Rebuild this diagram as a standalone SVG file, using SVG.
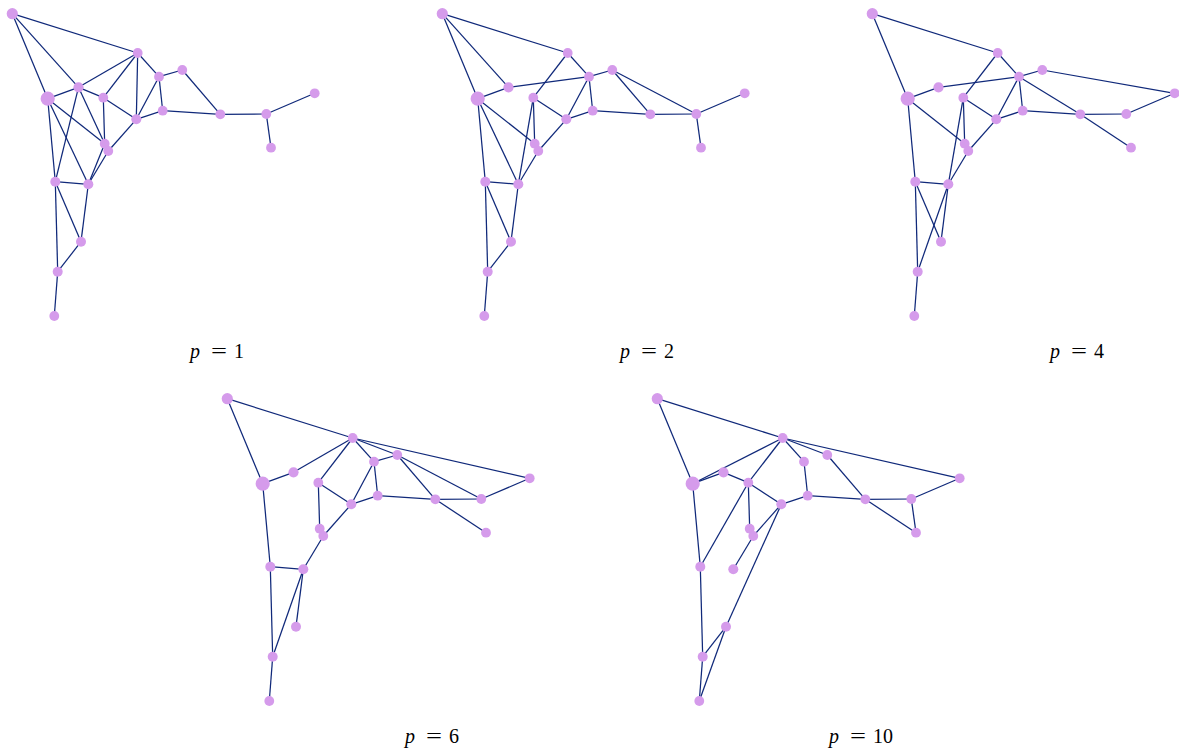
<svg xmlns="http://www.w3.org/2000/svg" width="1179" height="753" viewBox="0 0 1179 753">
<style>
.e line{stroke:#10297a;stroke-width:1.25;fill:none}
.n{fill:#d59beb}
.t{font-family:"Liberation Serif","Times New Roman",serif;font-size:20px;fill:#000}
.it{font-style:italic}
</style>
<rect x="0" y="0" width="1179" height="753" fill="#fff"/>

<!-- Panel p=1 -->
<g id="panel-p1" transform="translate(0,0)">
<g id="p1-connectors" class="e">
<line x1="12.3" y1="13.7" x2="137.7" y2="53"/>
<line x1="12.3" y1="13.7" x2="78.5" y2="87.3"/>
<line x1="12.3" y1="13.7" x2="47.7" y2="98.7"/>
<line x1="137.7" y1="53" x2="78.5" y2="87.3"/>
<line x1="137.7" y1="53" x2="103.3" y2="97.7"/>
<line x1="137.7" y1="53" x2="136.3" y2="119.3"/>
<line x1="137.7" y1="53" x2="159" y2="76.7"/>
<line x1="159" y1="76.7" x2="182.3" y2="70"/>
<line x1="159" y1="76.7" x2="136.3" y2="119.3"/>
<line x1="159" y1="76.7" x2="162.7" y2="110.7"/>
<line x1="182.3" y1="70" x2="220.3" y2="114.3"/>
<line x1="78.5" y1="87.3" x2="47.7" y2="98.7"/>
<line x1="78.5" y1="87.3" x2="103.3" y2="97.7"/>
<line x1="78.5" y1="87.3" x2="55.3" y2="181.7"/>
<line x1="78.5" y1="87.3" x2="104.7" y2="143.7"/>
<line x1="47.7" y1="98.7" x2="55.3" y2="181.7"/>
<line x1="47.7" y1="98.7" x2="88.3" y2="184.3"/>
<line x1="47.7" y1="98.7" x2="104.7" y2="143.7"/>
<line x1="103.3" y1="97.7" x2="104.7" y2="143.7"/>
<line x1="103.3" y1="97.7" x2="136.3" y2="119.3"/>
<line x1="136.3" y1="119.3" x2="162.7" y2="110.7"/>
<line x1="136.3" y1="119.3" x2="108.3" y2="151"/>
<line x1="162.7" y1="110.7" x2="220.3" y2="114.3"/>
<line x1="220.3" y1="114.3" x2="266.3" y2="114"/>
<line x1="266.3" y1="114" x2="314.7" y2="93.3"/>
<line x1="266.3" y1="114" x2="271" y2="147.7"/>
<line x1="104.7" y1="143.7" x2="88.3" y2="184.3"/>
<line x1="108.3" y1="151" x2="88.3" y2="184.3"/>
<line x1="104.7" y1="143.7" x2="108.3" y2="151"/>
<line x1="55.3" y1="181.7" x2="88.3" y2="184.3"/>
<line x1="55.3" y1="181.7" x2="81" y2="241.7"/>
<line x1="55.3" y1="181.7" x2="57.7" y2="271.7"/>
<line x1="88.3" y1="184.3" x2="81" y2="241.7"/>
<line x1="81" y1="241.7" x2="57.7" y2="271.7"/>
<line x1="57.7" y1="271.7" x2="54.3" y2="316"/>
</g>
<g id="p1-A"><circle class="n" cx="12.3" cy="13.7" r="5.6"/></g>
<g id="p1-B"><circle class="n" cx="137.7" cy="53" r="4.9"/></g>
<g id="p1-C"><circle class="n" cx="159" cy="76.7" r="4.9"/></g>
<g id="p1-D"><circle class="n" cx="182.3" cy="70" r="4.9"/></g>
<g id="p1-E"><circle class="n" cx="78.5" cy="87.3" r="5.1"/></g>
<g id="p1-F"><circle class="n" cx="47.7" cy="98.7" r="7.1"/></g>
<g id="p1-G"><circle class="n" cx="103.3" cy="97.7" r="4.9"/></g>
<g id="p1-H"><circle class="n" cx="162.7" cy="110.7" r="4.9"/></g>
<g id="p1-I"><circle class="n" cx="136.3" cy="119.3" r="5"/></g>
<g id="p1-J"><circle class="n" cx="220.3" cy="114.3" r="4.9"/></g>
<g id="p1-K"><circle class="n" cx="266.3" cy="114" r="4.9"/></g>
<g id="p1-L"><circle class="n" cx="314.7" cy="93.3" r="4.9"/></g>
<g id="p1-M"><circle class="n" cx="271" cy="147.7" r="4.9"/></g>
<g id="p1-N"><circle class="n" cx="104.7" cy="143.7" r="4.9"/></g>
<g id="p1-O"><circle class="n" cx="108.3" cy="151" r="4.9"/></g>
<g id="p1-P"><circle class="n" cx="55.3" cy="181.7" r="5"/></g>
<g id="p1-Q"><circle class="n" cx="88.3" cy="184.3" r="5"/></g>
<g id="p1-R"><circle class="n" cx="81" cy="241.7" r="5"/></g>
<g id="p1-S"><circle class="n" cx="57.7" cy="271.7" r="5"/></g>
<g id="p1-T"><circle class="n" cx="54.3" cy="316" r="4.9"/></g>
</g>

<!-- Panel p=2 -->
<g id="panel-p2" transform="translate(430,0)">
<g id="p2-connectors" class="e">
<line x1="12.3" y1="13.7" x2="137.7" y2="53"/>
<line x1="12.3" y1="13.7" x2="78.5" y2="87.3"/>
<line x1="12.3" y1="13.7" x2="47.7" y2="98.7"/>
<line x1="137.7" y1="53" x2="103.3" y2="97.7"/>
<line x1="137.7" y1="53" x2="159" y2="76.7"/>
<line x1="159" y1="76.7" x2="78.5" y2="87.3"/>
<line x1="159" y1="76.7" x2="136.3" y2="119.3"/>
<line x1="159" y1="76.7" x2="162.7" y2="110.7"/>
<line x1="159" y1="76.7" x2="182.3" y2="70"/>
<line x1="182.3" y1="70" x2="220.3" y2="114.3"/>
<line x1="182.3" y1="70" x2="266.3" y2="114"/>
<line x1="78.5" y1="87.3" x2="47.7" y2="98.7"/>
<line x1="47.7" y1="98.7" x2="55.3" y2="181.7"/>
<line x1="47.7" y1="98.7" x2="88.3" y2="184.3"/>
<line x1="47.7" y1="98.7" x2="104.7" y2="143.7"/>
<line x1="103.3" y1="97.7" x2="104.7" y2="143.7"/>
<line x1="103.3" y1="97.7" x2="88.3" y2="184.3"/>
<line x1="103.3" y1="97.7" x2="136.3" y2="119.3"/>
<line x1="136.3" y1="119.3" x2="108.3" y2="151"/>
<line x1="136.3" y1="119.3" x2="162.7" y2="110.7"/>
<line x1="162.7" y1="110.7" x2="220.3" y2="114.3"/>
<line x1="220.3" y1="114.3" x2="266.3" y2="114"/>
<line x1="266.3" y1="114" x2="314.7" y2="93.3"/>
<line x1="266.3" y1="114" x2="271" y2="147.7"/>
<line x1="108.3" y1="151" x2="88.3" y2="184.3"/>
<line x1="104.7" y1="143.7" x2="108.3" y2="151"/>
<line x1="55.3" y1="181.7" x2="88.3" y2="184.3"/>
<line x1="55.3" y1="181.7" x2="81" y2="241.7"/>
<line x1="55.3" y1="181.7" x2="57.7" y2="271.7"/>
<line x1="88.3" y1="184.3" x2="81" y2="241.7"/>
<line x1="81" y1="241.7" x2="57.7" y2="271.7"/>
<line x1="57.7" y1="271.7" x2="54.3" y2="316"/>
</g>
<g id="p2-A"><circle class="n" cx="12.3" cy="13.7" r="5.6"/></g>
<g id="p2-B"><circle class="n" cx="137.7" cy="53" r="4.9"/></g>
<g id="p2-C"><circle class="n" cx="159" cy="76.7" r="4.9"/></g>
<g id="p2-D"><circle class="n" cx="182.3" cy="70" r="4.9"/></g>
<g id="p2-E"><circle class="n" cx="78.5" cy="87.3" r="5.1"/></g>
<g id="p2-F"><circle class="n" cx="47.7" cy="98.7" r="7.1"/></g>
<g id="p2-G"><circle class="n" cx="103.3" cy="97.7" r="4.9"/></g>
<g id="p2-H"><circle class="n" cx="162.7" cy="110.7" r="4.9"/></g>
<g id="p2-I"><circle class="n" cx="136.3" cy="119.3" r="5"/></g>
<g id="p2-J"><circle class="n" cx="220.3" cy="114.3" r="4.9"/></g>
<g id="p2-K"><circle class="n" cx="266.3" cy="114" r="4.9"/></g>
<g id="p2-L"><circle class="n" cx="314.7" cy="93.3" r="4.9"/></g>
<g id="p2-M"><circle class="n" cx="271" cy="147.7" r="4.9"/></g>
<g id="p2-N"><circle class="n" cx="104.7" cy="143.7" r="4.9"/></g>
<g id="p2-O"><circle class="n" cx="108.3" cy="151" r="4.9"/></g>
<g id="p2-P"><circle class="n" cx="55.3" cy="181.7" r="5"/></g>
<g id="p2-Q"><circle class="n" cx="88.3" cy="184.3" r="5"/></g>
<g id="p2-R"><circle class="n" cx="81" cy="241.7" r="5"/></g>
<g id="p2-S"><circle class="n" cx="57.7" cy="271.7" r="5"/></g>
<g id="p2-T"><circle class="n" cx="54.3" cy="316" r="4.9"/></g>
</g>

<!-- Panel p=4 -->
<g id="panel-p4" transform="translate(860,0)">
<g id="p4-connectors" class="e">
<line x1="12.3" y1="13.7" x2="137.7" y2="53"/>
<line x1="12.3" y1="13.7" x2="47.7" y2="98.7"/>
<line x1="137.7" y1="53" x2="103.3" y2="97.7"/>
<line x1="137.7" y1="53" x2="159" y2="76.7"/>
<line x1="159" y1="76.7" x2="78.5" y2="87.3"/>
<line x1="159" y1="76.7" x2="136.3" y2="119.3"/>
<line x1="159" y1="76.7" x2="162.7" y2="110.7"/>
<line x1="159" y1="76.7" x2="182.3" y2="70"/>
<line x1="159" y1="76.7" x2="220.3" y2="114.3"/>
<line x1="182.3" y1="70" x2="314.7" y2="93.3"/>
<line x1="78.5" y1="87.3" x2="47.7" y2="98.7"/>
<line x1="47.7" y1="98.7" x2="55.3" y2="181.7"/>
<line x1="47.7" y1="98.7" x2="104.7" y2="143.7"/>
<line x1="103.3" y1="97.7" x2="104.7" y2="143.7"/>
<line x1="103.3" y1="97.7" x2="88.3" y2="184.3"/>
<line x1="103.3" y1="97.7" x2="136.3" y2="119.3"/>
<line x1="136.3" y1="119.3" x2="108.3" y2="151"/>
<line x1="136.3" y1="119.3" x2="162.7" y2="110.7"/>
<line x1="162.7" y1="110.7" x2="220.3" y2="114.3"/>
<line x1="220.3" y1="114.3" x2="266.3" y2="114"/>
<line x1="266.3" y1="114" x2="314.7" y2="93.3"/>
<line x1="220.3" y1="114.3" x2="271" y2="147.7"/>
<line x1="108.3" y1="151" x2="88.3" y2="184.3"/>
<line x1="104.7" y1="143.7" x2="108.3" y2="151"/>
<line x1="55.3" y1="181.7" x2="88.3" y2="184.3"/>
<line x1="55.3" y1="181.7" x2="81" y2="241.7"/>
<line x1="55.3" y1="181.7" x2="57.7" y2="271.7"/>
<line x1="88.3" y1="184.3" x2="81" y2="241.7"/>
<line x1="88.3" y1="184.3" x2="57.7" y2="271.7"/>
<line x1="57.7" y1="271.7" x2="54.3" y2="316"/>
</g>
<g id="p4-A"><circle class="n" cx="12.3" cy="13.7" r="5.6"/></g>
<g id="p4-B"><circle class="n" cx="137.7" cy="53" r="4.9"/></g>
<g id="p4-C"><circle class="n" cx="159" cy="76.7" r="4.9"/></g>
<g id="p4-D"><circle class="n" cx="182.3" cy="70" r="4.9"/></g>
<g id="p4-E"><circle class="n" cx="78.5" cy="87.3" r="5.1"/></g>
<g id="p4-F"><circle class="n" cx="47.7" cy="98.7" r="7.1"/></g>
<g id="p4-G"><circle class="n" cx="103.3" cy="97.7" r="4.9"/></g>
<g id="p4-H"><circle class="n" cx="162.7" cy="110.7" r="4.9"/></g>
<g id="p4-I"><circle class="n" cx="136.3" cy="119.3" r="5"/></g>
<g id="p4-J"><circle class="n" cx="220.3" cy="114.3" r="4.9"/></g>
<g id="p4-K"><circle class="n" cx="266.3" cy="114" r="4.9"/></g>
<g id="p4-L"><circle class="n" cx="314.7" cy="93.3" r="4.9"/></g>
<g id="p4-M"><circle class="n" cx="271" cy="147.7" r="4.9"/></g>
<g id="p4-N"><circle class="n" cx="104.7" cy="143.7" r="4.9"/></g>
<g id="p4-O"><circle class="n" cx="108.3" cy="151" r="4.9"/></g>
<g id="p4-P"><circle class="n" cx="55.3" cy="181.7" r="5"/></g>
<g id="p4-Q"><circle class="n" cx="88.3" cy="184.3" r="5"/></g>
<g id="p4-R"><circle class="n" cx="81" cy="241.7" r="5"/></g>
<g id="p4-S"><circle class="n" cx="57.7" cy="271.7" r="5"/></g>
<g id="p4-T"><circle class="n" cx="54.3" cy="316" r="4.9"/></g>
</g>

<!-- Panel p=6 -->
<g id="panel-p6" transform="translate(215,385)">
<g id="p6-connectors" class="e">
<line x1="12.3" y1="13.7" x2="137.7" y2="53"/>
<line x1="12.3" y1="13.7" x2="47.7" y2="98.7"/>
<line x1="137.7" y1="53" x2="78.5" y2="87.3"/>
<line x1="137.7" y1="53" x2="103.3" y2="97.7"/>
<line x1="137.7" y1="53" x2="159" y2="76.7"/>
<line x1="137.7" y1="53" x2="182.3" y2="70"/>
<line x1="137.7" y1="53" x2="314.7" y2="93.3"/>
<line x1="159" y1="76.7" x2="182.3" y2="70"/>
<line x1="159" y1="76.7" x2="136.3" y2="119.3"/>
<line x1="159" y1="76.7" x2="162.7" y2="110.7"/>
<line x1="182.3" y1="70" x2="220.3" y2="114.3"/>
<line x1="182.3" y1="70" x2="266.3" y2="114"/>
<line x1="78.5" y1="87.3" x2="47.7" y2="98.7"/>
<line x1="103.3" y1="97.7" x2="136.3" y2="119.3"/>
<line x1="103.3" y1="97.7" x2="104.7" y2="143.7"/>
<line x1="136.3" y1="119.3" x2="162.7" y2="110.7"/>
<line x1="162.7" y1="110.7" x2="220.3" y2="114.3"/>
<line x1="136.3" y1="119.3" x2="108.3" y2="151"/>
<line x1="220.3" y1="114.3" x2="266.3" y2="114"/>
<line x1="266.3" y1="114" x2="314.7" y2="93.3"/>
<line x1="220.3" y1="114.3" x2="271" y2="147.7"/>
<line x1="47.7" y1="98.7" x2="55.3" y2="181.7"/>
<line x1="104.7" y1="143.7" x2="108.3" y2="151"/>
<line x1="55.3" y1="181.7" x2="88.3" y2="184.3"/>
<line x1="108.3" y1="151" x2="88.3" y2="184.3"/>
<line x1="88.3" y1="184.3" x2="81" y2="241.7"/>
<line x1="88.3" y1="184.3" x2="57.7" y2="271.7"/>
<line x1="55.3" y1="181.7" x2="57.7" y2="271.7"/>
<line x1="57.7" y1="271.7" x2="54.3" y2="316"/>
</g>
<g id="p6-A"><circle class="n" cx="12.3" cy="13.7" r="5.6"/></g>
<g id="p6-B"><circle class="n" cx="137.7" cy="53" r="4.9"/></g>
<g id="p6-C"><circle class="n" cx="159" cy="76.7" r="4.9"/></g>
<g id="p6-D"><circle class="n" cx="182.3" cy="70" r="4.9"/></g>
<g id="p6-E"><circle class="n" cx="78.5" cy="87.3" r="5.1"/></g>
<g id="p6-F"><circle class="n" cx="47.7" cy="98.7" r="7.1"/></g>
<g id="p6-G"><circle class="n" cx="103.3" cy="97.7" r="4.9"/></g>
<g id="p6-H"><circle class="n" cx="162.7" cy="110.7" r="4.9"/></g>
<g id="p6-I"><circle class="n" cx="136.3" cy="119.3" r="5"/></g>
<g id="p6-J"><circle class="n" cx="220.3" cy="114.3" r="4.9"/></g>
<g id="p6-K"><circle class="n" cx="266.3" cy="114" r="4.9"/></g>
<g id="p6-L"><circle class="n" cx="314.7" cy="93.3" r="4.9"/></g>
<g id="p6-M"><circle class="n" cx="271" cy="147.7" r="4.9"/></g>
<g id="p6-N"><circle class="n" cx="104.7" cy="143.7" r="4.9"/></g>
<g id="p6-O"><circle class="n" cx="108.3" cy="151" r="4.9"/></g>
<g id="p6-P"><circle class="n" cx="55.3" cy="181.7" r="5"/></g>
<g id="p6-Q"><circle class="n" cx="88.3" cy="184.3" r="5"/></g>
<g id="p6-R"><circle class="n" cx="81" cy="241.7" r="5"/></g>
<g id="p6-S"><circle class="n" cx="57.7" cy="271.7" r="5"/></g>
<g id="p6-T"><circle class="n" cx="54.3" cy="316" r="4.9"/></g>
</g>

<!-- Panel p=10 -->
<g id="panel-p10" transform="translate(645,385)">
<g id="p10-connectors" class="e">
<line x1="12.3" y1="13.7" x2="137.7" y2="53"/>
<line x1="12.3" y1="13.7" x2="47.7" y2="98.7"/>
<line x1="137.7" y1="53" x2="47.7" y2="98.7"/>
<line x1="137.7" y1="53" x2="103.3" y2="97.7"/>
<line x1="137.7" y1="53" x2="159" y2="76.7"/>
<line x1="137.7" y1="53" x2="182.3" y2="70"/>
<line x1="137.7" y1="53" x2="314.7" y2="93.3"/>
<line x1="159" y1="76.7" x2="162.7" y2="110.7"/>
<line x1="182.3" y1="70" x2="220.3" y2="114.3"/>
<line x1="78.5" y1="87.3" x2="47.7" y2="98.7"/>
<line x1="78.5" y1="87.3" x2="103.3" y2="97.7"/>
<line x1="47.7" y1="98.7" x2="55.3" y2="181.7"/>
<line x1="103.3" y1="97.7" x2="104.7" y2="143.7"/>
<line x1="103.3" y1="97.7" x2="55.3" y2="181.7"/>
<line x1="103.3" y1="97.7" x2="136.3" y2="119.3"/>
<line x1="136.3" y1="119.3" x2="162.7" y2="110.7"/>
<line x1="162.7" y1="110.7" x2="220.3" y2="114.3"/>
<line x1="136.3" y1="119.3" x2="108.3" y2="151"/>
<line x1="136.3" y1="119.3" x2="81" y2="241.7"/>
<line x1="220.3" y1="114.3" x2="266.3" y2="114"/>
<line x1="266.3" y1="114" x2="314.7" y2="93.3"/>
<line x1="220.3" y1="114.3" x2="271" y2="147.7"/>
<line x1="266.3" y1="114" x2="271" y2="147.7"/>
<line x1="104.7" y1="143.7" x2="108.3" y2="151"/>
<line x1="108.3" y1="151" x2="88.3" y2="184.3"/>
<line x1="55.3" y1="181.7" x2="57.7" y2="271.7"/>
<line x1="81" y1="241.7" x2="57.7" y2="271.7"/>
<line x1="81" y1="241.7" x2="54.3" y2="316"/>
<line x1="57.7" y1="271.7" x2="54.3" y2="316"/>
</g>
<g id="p10-A"><circle class="n" cx="12.3" cy="13.7" r="5.6"/></g>
<g id="p10-B"><circle class="n" cx="137.7" cy="53" r="4.9"/></g>
<g id="p10-C"><circle class="n" cx="159" cy="76.7" r="4.9"/></g>
<g id="p10-D"><circle class="n" cx="182.3" cy="70" r="4.9"/></g>
<g id="p10-E"><circle class="n" cx="78.5" cy="87.3" r="5.1"/></g>
<g id="p10-F"><circle class="n" cx="47.7" cy="98.7" r="7.1"/></g>
<g id="p10-G"><circle class="n" cx="103.3" cy="97.7" r="4.9"/></g>
<g id="p10-H"><circle class="n" cx="162.7" cy="110.7" r="4.9"/></g>
<g id="p10-I"><circle class="n" cx="136.3" cy="119.3" r="5"/></g>
<g id="p10-J"><circle class="n" cx="220.3" cy="114.3" r="4.9"/></g>
<g id="p10-K"><circle class="n" cx="266.3" cy="114" r="4.9"/></g>
<g id="p10-L"><circle class="n" cx="314.7" cy="93.3" r="4.9"/></g>
<g id="p10-M"><circle class="n" cx="271" cy="147.7" r="4.9"/></g>
<g id="p10-N"><circle class="n" cx="104.7" cy="143.7" r="4.9"/></g>
<g id="p10-O"><circle class="n" cx="108.3" cy="151" r="4.9"/></g>
<g id="p10-P"><circle class="n" cx="55.3" cy="181.7" r="5"/></g>
<g id="p10-Q"><circle class="n" cx="88.3" cy="184.3" r="5"/></g>
<g id="p10-R"><circle class="n" cx="81" cy="241.7" r="5"/></g>
<g id="p10-S"><circle class="n" cx="57.7" cy="271.7" r="5"/></g>
<g id="p10-T"><circle class="n" cx="54.3" cy="316" r="4.9"/></g>
</g>

<!-- Labels -->
<g id="labels">
<text class="t it" x="190" y="358">p</text><text class="t" x="211" y="358" textLength="16" lengthAdjust="spacingAndGlyphs">=</text><text class="t" x="234" y="358">1</text>
<text class="t it" x="620" y="358">p</text><text class="t" x="641" y="358" textLength="16" lengthAdjust="spacingAndGlyphs">=</text><text class="t" x="664" y="358">2</text>
<text class="t it" x="1050" y="358">p</text><text class="t" x="1071" y="358" textLength="16" lengthAdjust="spacingAndGlyphs">=</text><text class="t" x="1094" y="358">4</text>
<text class="t it" x="405" y="743">p</text><text class="t" x="426" y="743" textLength="16" lengthAdjust="spacingAndGlyphs">=</text><text class="t" x="449" y="743">6</text>
<text class="t it" x="829" y="743">p</text><text class="t" x="850" y="743" textLength="16" lengthAdjust="spacingAndGlyphs">=</text><text class="t" x="873" y="743">10</text>
</g>
</svg>
